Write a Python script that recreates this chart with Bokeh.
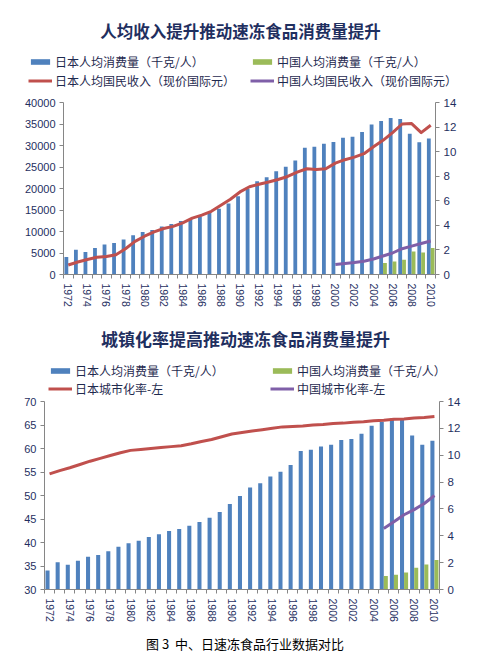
from bokeh.plotting import figure
from bokeh.models import (Range1d, LinearAxis, FixedTicker, Legend, LegendItem,
                          BasicTickFormatter, Div, Label)
from bokeh.layouts import column
from bokeh.embed import file_html
from bokeh.resources import INLINE

# ---------------- data ----------------
years = [1972, 1973, 1974, 1975, 1976, 1977, 1978, 1979, 1980, 1981,
         1982, 1983, 1984, 1985, 1986, 1987, 1988, 1989, 1990, 1991,
         1992, 1993, 1994, 1995, 1996, 1997, 1998, 1999, 2000, 2001,
         2002, 2003, 2004, 2005, 2006, 2007, 2008, 2009, 2010]

# 日本人均消费量（千克/人）
japan_consumption = [1.42, 2.02, 1.84, 2.15, 2.44, 2.57, 2.85, 3.19, 3.45, 3.63,
                     3.91, 4.12, 4.35, 4.50, 4.75, 5.02, 5.35, 5.78, 6.37, 6.97,
                     7.60, 7.92, 8.41, 8.77, 9.28, 10.31, 10.40, 10.64, 10.78, 11.13,
                     11.21, 11.59, 12.20, 12.49, 12.74, 12.66, 11.46, 10.77, 11.07]

china_years = [2005, 2006, 2007, 2008, 2009, 2010]
# 中国人均消费量（千克/人） as drawn in chart 1 and chart 2
china_consumption_1 = [0.93, 1.05, 1.20, 1.88, 1.80, 2.15]
china_consumption_2 = [1.00, 1.09, 1.27, 1.62, 1.86, 2.20]

# 日本人均国民收入（现价国际元）
japan_income = [2200, 2900, 3500, 4000, 4200, 4600, 6000, 7700, 8900, 9900,
                10700, 11200, 12000, 13100, 13800, 14700, 16100, 17500, 19200, 20400,
                21000, 21500, 22100, 22800, 23800, 24600, 24400, 24600, 25900, 26700,
                27300, 28100, 29700, 31200, 33000, 35000, 35100, 33000, 34700]

china_income_years = [2000, 2001, 2002, 2003, 2004, 2005, 2006, 2007, 2008, 2009, 2010]
china_income = [2300, 2560, 2800, 3100, 3600, 4300, 5000, 6000, 6600, 7200, 7800]

# 城市化率 (%)
japan_urban = [54.6, 55.3, 55.9, 56.6, 57.3, 57.9, 58.5, 59.1, 59.6, 59.8,
               60.0, 60.2, 60.4, 60.6, 61.0, 61.5, 61.9, 62.5, 63.1, 63.4,
               63.7, 64.0, 64.3, 64.6, 64.7, 64.8, 65.0, 65.1, 65.3, 65.4,
               65.6, 65.7, 65.9, 66.0, 66.2, 66.3, 66.5, 66.6, 66.8]
china_urban = [43.0, 44.4, 45.9, 47.0, 48.3, 50.0]

left_ticks_1 = [0, 5000, 10000, 15000, 20000, 25000, 30000, 35000, 40000]
left_ticks_2 = [30, 35, 40, 45, 50, 55, 60, 65, 70]
right_ticks = [0, 2, 4, 6, 8, 10, 12, 14]

title_1 = "人均收入提升推动速冻食品消费量提升"
title_2 = "城镇化率提高推动速冻食品消费量提升"
labels_1 = ["日本人均消费量（千克/人）", "中国人均消费量（千克/人）",
            "日本人均国民收入（现价国际元）", "中国人均国民收入（现价国际元）"]
labels_2 = ["日本人均消费量（千克/人）", "中国人均消费量（千克/人）",
            "日本城市化率-左", "中国城市化率-左"]
caption = "图 3&nbsp; 中、日速冻食品行业数据对比"

# ---------------- style ----------------
BLUE = "#4F81BD"
GREEN = "#9BBB59"
RED = "#C0504D"
PURPLE = "#7F5FA8"
NAVY = "#1F2F5F"
AXIS = "#868686"
CJK = "Noto Sans CJK SC"
NUM = "Liberation Sans"
W = 480


def style_axis(ax, size="11px"):
    ax.axis_line_color = AXIS
    ax.major_tick_line_color = AXIS
    ax.minor_tick_line_color = None
    ax.major_tick_in = 0
    ax.major_tick_out = 4
    ax.major_label_text_color = NAVY
    ax.major_label_text_font = NUM
    ax.major_label_text_font_size = size
    ax.major_label_standoff = 4


def make_header(title, labels, china_cons, line_main, line_china_x, line_china,
                height, title_x, title_y, title_size,
                leg_x1, leg_x2, leg_y, row_h, glyph_h, leg_spacing):
    """Title and two-column legend drawn above the chart frame."""
    h = figure(width=W, height=height, output_backend="svg", toolbar_location=None,
               title=None, x_range=Range1d(0, W), y_range=Range1d(0, height),
               x_axis_type=None, y_axis_type=None, min_border=0,
               min_border_left=0, min_border_right=0, min_border_top=0,
               min_border_bottom=0)
    h.frame_align = False
    h.outline_line_color = None
    h.xgrid.visible = False
    h.ygrid.visible = False
    h.add_layout(Label(x=title_x, y=title_y, x_units="screen", y_units="screen",
                       text=title, text_align="center", text_baseline="middle",
                       text_font=CJK, text_font_size=title_size,
                       text_font_style="bold", text_color=NAVY))
    # legend keys: the chart series with the same styles (years lie outside this
    # header's 0..W range, so only their legend keys show)
    kb = h.vbar(x=years, top=japan_consumption, width=0.4, fill_color=BLUE, line_color=None)
    kg = h.vbar(x=china_years, top=china_cons, width=0.4, fill_color=GREEN, line_color=None)
    kr = h.line(x=years, y=line_main, line_color=RED, line_width=3)
    kp = h.line(x=line_china_x, y=line_china, line_color=PURPLE, line_width=3)
    common = dict(margin=0, padding=0, spacing=leg_spacing, glyph_width=24,
                  glyph_height=glyph_h, label_height=row_h, label_standoff=3,
                  label_text_font=CJK, label_text_font_size="12px",
                  label_text_color="#1F2A4F", border_line_color=None,
                  background_fill_color=None)
    l1 = Legend(items=[LegendItem(label=labels[0], renderers=[kb], index=0),
                       LegendItem(label=labels[2], renderers=[kr], index=0)],
                location=(leg_x1, leg_y), **common)
    l2 = Legend(items=[LegendItem(label=labels[1], renderers=[kg], index=0),
                       LegendItem(label=labels[3], renderers=[kp], index=0)],
                location=(leg_x2, leg_y), **common)
    h.add_layout(l1, "center")
    h.add_layout(l2, "center")
    return h


def make_chart(left_range, left_ticks, china_cons, line_main, line_china,
               line_china_x, height, borders):
    bl, br, bt, bb = borders
    p = figure(width=W, height=height, output_backend="svg", toolbar_location=None,
               title=None, x_range=Range1d(1971.5, 2010.5), y_range=Range1d(*left_range),
               min_border_left=bl, min_border_right=br, min_border_top=bt,
               min_border_bottom=bb)
    p.frame_align = False
    p.extra_y_ranges = {"right": Range1d(0, 14)}
    p.outline_line_color = None
    p.xgrid.grid_line_color = None
    p.ygrid.grid_line_color = None

    p.vbar(x=[y - 0.2 for y in years], top=japan_consumption, width=0.4, bottom=0,
           fill_color=BLUE, line_color=None, y_range_name="right")
    p.vbar(x=[y + 0.2 for y in china_years], top=china_cons, width=0.4, bottom=0,
           fill_color=GREEN, line_color=None, y_range_name="right")
    p.line(years, line_main, line_color=RED, line_width=3, line_join="round")
    p.line(line_china_x, line_china, line_color=PURPLE, line_width=3, line_join="round")

    xa = p.xaxis[0]
    xa.ticker = FixedTicker(ticks=years, minor_ticks=[y - 0.5 for y in years] + [2010.5])
    xa.major_label_overrides = {y: ("" if y % 2 else str(y)) for y in years}
    style_axis(xa, "10.5px")
    xa.major_tick_out = 0
    xa.minor_tick_line_color = AXIS
    xa.minor_tick_in = 0
    xa.minor_tick_out = 4
    xa.major_label_orientation = "vertical"
    xa.major_label_standoff = 5

    ya = p.yaxis[0]
    ya.ticker = FixedTicker(ticks=left_ticks)
    ya.formatter = BasicTickFormatter(use_scientific=False)
    style_axis(ya)

    ra = LinearAxis(y_range_name="right", ticker=FixedTicker(ticks=right_ticks))
    style_axis(ra, "11.5px")
    p.add_layout(ra, "right")
    return p


h1 = make_header(title_1, labels_1, china_consumption_1, japan_income,
                 china_income_years, china_income,
                 height=94, title_x=240, title_y=64, title_size="16.5px",
                 leg_x1=28, leg_x2=250, leg_y=5, row_h=15, glyph_h=7, leg_spacing=2)
p1 = make_chart((0, 40000), left_ticks_1, china_consumption_1,
                japan_income, china_income, china_income_years,
                height=216, borders=(63, W - 435, 8, 36))
h2 = make_header(title_2, labels_2, china_consumption_2, japan_urban,
                 china_years, china_urban,
                 height=87, title_x=245, title_y=59, title_size="17px",
                 leg_x1=48, leg_x2=270, leg_y=0, row_h=13, glyph_h=7, leg_spacing=1)
p2 = make_chart((30, 70), left_ticks_2, china_consumption_2,
                japan_urban, china_urban, china_years,
                height=228, borders=(44, W - 439, 4, 36))

cap = Div(text=caption, width=W, height=33,
          styles={"text-align": "center", "font-size": "13px", "font-family": CJK,
                  "color": "#000000", "padding-top": "6px", "line-height": "16px"})

layout = column(h1, p1, h2, p2, cap, spacing=0)
open("out.html", "w").write(file_html(layout, INLINE))
